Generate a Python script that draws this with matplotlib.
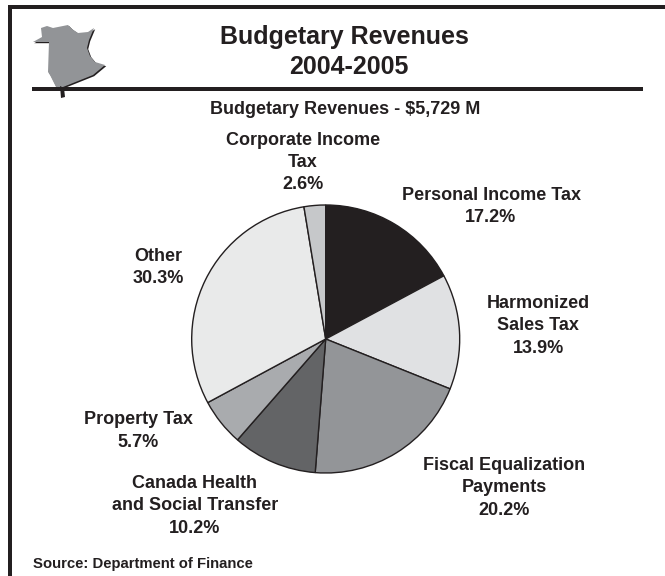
import matplotlib
matplotlib.use("Agg")
import matplotlib.pyplot as plt
from matplotlib.patches import Polygon, Rectangle

plt.rcParams["font.family"] = ["Liberation Sans", "DejaVu Sans"]

# Pie data, clockwise from 12 o'clock
labels = ["Personal Income Tax", "Harmonized Sales Tax", "Fiscal Equalization Payments",
          "Canada Health and Social Transfer", "Property Tax", "Other", "Corporate Income Tax"]
shares = [17.2, 13.9, 20.2, 10.2, 5.7, 30.3, 2.6]
colors = ["#231f20", "#e0e1e3", "#939598", "#636466", "#a9abae", "#e9eaea", "#c6c8ca"]

# text label, x, y (pixels)
slice_text = [
    ("Personal Income Tax\n17.2%", 491, 206.5),
    ("Harmonized\nSales Tax\n13.9%", 538, 326),
    ("Fiscal Equalization\nPayments\n20.2%", 504, 488),
    ("Canada Health\nand Social Transfer\n10.2%", 195, 506),
    ("Property Tax\n5.7%", 138, 431),
    ("Other\n30.3%", 158, 267.5),
    ("Corporate Income\nTax\n2.6%", 303, 162.5),
]

# New Brunswick outline (pixels)
map_outline = [(33, 42), (42, 37), (41, 28), (47, 26), (53, 28), (68, 25), (72, 29), (78, 33), (88, 32),
               (94, 28), (89, 40), (87, 48), (90, 56), (95, 62), (105, 65), (93, 75), (78, 81), (63, 87),
               (56, 87), (50, 75), (48, 72), (49, 42)]

W, H = 665, 576
fig = plt.figure(figsize=(W / 100, H / 100), dpi=100)
ax = fig.add_axes([0, 0, 1, 1])

dark = "#231f20"

# y grows downward, so the pie runs "counterclock" in data terms to go clockwise on screen
ax.pie(shares, colors=colors, startangle=-90, counterclock=True, center=(325.7, 339), radius=134,
       wedgeprops=dict(edgecolor=dark, linewidth=1))
ax.set_xlim(0, W)
ax.set_ylim(H, 0)
ax.set_aspect("equal")
ax.axis("off")

# frame: top and left only
ax.add_patch(Rectangle((8, 5), 657, 3.6, color=dark, lw=0))
ax.add_patch(Rectangle((8, 5), 3.5, 571, color=dark, lw=0))

# map icon with thin shadow, then rule
ax.add_patch(Polygon([(x + 1.2, y + 1.2) for x, y in map_outline], closed=True, color=dark, lw=0, zorder=2))
ax.add_patch(Polygon(map_outline, closed=True, facecolor="#929497", edgecolor="none", zorder=3))
ax.add_patch(Rectangle((32, 87), 611, 3.8, color=dark, lw=0, zorder=4))
ax.add_patch(Polygon([(60, 86), (64, 88), (65, 97), (61, 98)], closed=True, color=dark, lw=0, zorder=5))

ax.text(344.5, 37, "Budgetary Revenues", ha="center", va="center", fontsize=18, fontweight="bold", color=dark)
ax.text(349, 67, "2004-2005", ha="center", va="center", fontsize=18, fontweight="bold", color=dark)
ax.text(345.5, 109, "Budgetary Revenues - $5,729 M", ha="center", va="center", fontsize=13, fontweight="bold", color=dark)

for txt, x, y in slice_text:
    ax.text(x, y, txt, ha="center", va="center", fontsize=13, fontweight="bold", color=dark, linespacing=1.4)

ax.text(33, 564, "Source: Department of Finance", ha="left", va="center", fontsize=10.7, fontweight="bold", color=dark)

fig.savefig("out.png", dpi=100)
